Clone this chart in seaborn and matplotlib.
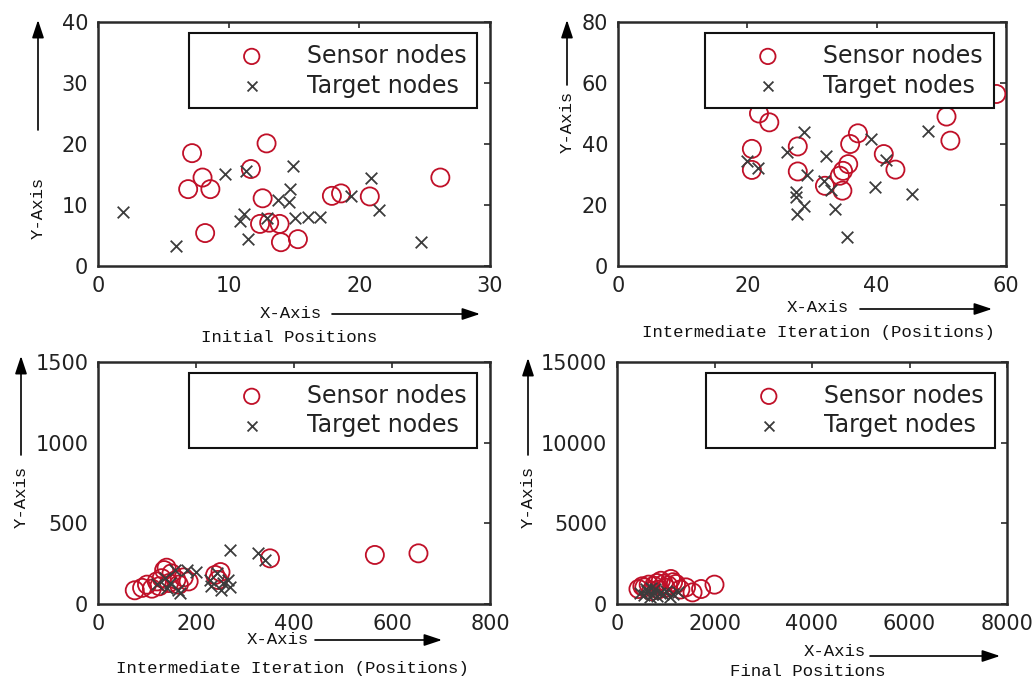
import numpy as np
import pandas as pd
import matplotlib
matplotlib.use("Agg")
import matplotlib.pyplot as plt
from matplotlib.patches import FancyArrowPatch
import seaborn as sns

# ---- node coordinates for each stage ----
init_sensor_x = [7.2, 12.9, 8.0, 6.9, 8.6, 11.7, 12.6, 8.2, 12.4, 13.1, 13.9, 14.0, 15.3, 17.9, 18.6, 20.8, 26.2]
init_sensor_y = [18.5, 20.1, 14.5, 12.6, 12.6, 15.9, 11.1, 5.4, 6.9, 7.1, 6.9, 3.9, 4.4, 11.5, 11.9, 11.4, 14.5]
init_target_x = [1.9, 6.0, 9.7, 11.3, 11.2, 10.9, 11.5, 12.9, 13.8, 14.6, 14.7, 14.9, 15.1, 16.1, 17.0, 19.4, 20.9, 21.5, 24.7]
init_target_y = [8.9, 3.3, 15.1, 15.5, 8.6, 7.3, 4.5, 7.8, 10.8, 10.5, 12.6, 16.4, 7.8, 8.1, 8.1, 11.4, 14.5, 9.2, 3.9]

mid1_sensor_x = [21.8, 23.4, 20.7, 20.7, 27.8, 27.8, 32.0, 34.7, 34.3, 34.8, 35.6, 35.9, 37.1, 41.1, 42.9, 50.8, 51.4, 58.5]
mid1_sensor_y = [50.0, 47.1, 38.4, 31.5, 39.2, 31.0, 26.3, 24.7, 29.6, 31.2, 33.4, 40.0, 43.5, 36.7, 31.6, 49.0, 41.1, 56.4]
mid1_target_x = [19.9, 21.7, 26.1, 28.8, 29.3, 27.6, 27.5, 28.7, 27.7, 32.1, 31.8, 33.0, 33.5, 35.4, 39.2, 39.7, 41.4, 45.5, 48.0]
mid1_target_y = [34.5, 32.1, 37.3, 44.0, 29.9, 24.1, 22.5, 19.8, 17.0, 36.2, 28.0, 24.9, 18.7, 9.4, 41.6, 26.0, 34.9, 23.6, 44.4]

mid2_sensor_x = [75, 90, 100, 110, 120, 125, 130, 135, 140, 145, 150, 160, 165, 175, 185, 239, 250, 245, 351, 565, 654]
mid2_sensor_y = [85, 100, 120, 95, 140, 110, 160, 210, 225, 130, 190, 150, 120, 165, 140, 180, 198, 149, 283, 304, 314]
mid2_target_x = [269, 327, 341, 201, 181, 157, 137, 147, 164, 167, 229, 242, 252, 269, 266, 230, 255, 120, 140]
mid2_target_y = [335, 314, 273, 200, 211, 211, 159, 128, 87, 66, 149, 190, 87, 107, 149, 110, 130, 125, 100]

final_sensor_x = [440, 520, 560, 650, 700, 760, 820, 900, 960, 1000, 1105, 1150, 1210, 1300, 1415, 1550, 1725, 2000, 850, 1050]
final_sensor_y = [930, 1100, 1030, 1200, 800, 1130, 1300, 1440, 1250, 1000, 1550, 1350, 1240, 900, 1030, 720, 930, 1200, 900, 1150]
final_target_x = [480, 560, 620, 680, 720, 780, 820, 880, 940, 1000, 1080, 1150, 1250, 600, 700]
final_target_y = [700, 550, 800, 450, 650, 900, 500, 700, 600, 800, 450, 650, 750, 950, 1000]

x_limits = [(0, 30), (0, 60), (0, 800), (0, 8000)]
y_limits = [(0, 40), (0, 80), (0, 1500), (0, 15000)]
x_ticks = [[0, 10, 20, 30], [0, 20, 40, 60], [0, 200, 400, 600, 800], [0, 2000, 4000, 6000, 8000]]
y_ticks = [[0, 10, 20, 30, 40], [0, 20, 40, 60, 80], [0, 500, 1000, 1500], [0, 5000, 10000, 15000]]
stage_titles = ["Initial Positions", "Intermediate Iteration (Positions)",
                "Intermediate Iteration (Positions)", "Final Positions"]
x_label = "X-Axis"
y_label = "Y-Axis"
sensor_label = "Sensor nodes"
target_label = "Target nodes"

stages = [
    (init_sensor_x, init_sensor_y, init_target_x, init_target_y),
    (mid1_sensor_x, mid1_sensor_y, mid1_target_x, mid1_target_y),
    (mid2_sensor_x, mid2_sensor_y, mid2_target_x, mid2_target_y),
    (final_sensor_x, final_sensor_y, final_target_x, final_target_y),
]

sns.set_style("white")
plt.rcParams["font.family"] = ["DejaVu Sans"]

W, H = 1035, 681
fig = plt.figure(figsize=(W / 100, H / 100), dpi=100)

def fx(px):
    return px / W

def fy(py):
    return 1 - py / H

# axes boxes in pixels: left, right, top, bottom
boxes = [(98, 490, 22, 266), (618, 1006, 22, 266), (98, 490, 362, 604), (617, 1007, 362, 604)]

SENSOR = "#c01028"
TARGET = "#3c3c3c"
EDGE = "#2a2a2a"
mono = "Liberation Mono"

for i, (box, data) in enumerate(zip(boxes, stages)):
    l, r, t, b = box
    ax = fig.add_axes([fx(l), fy(b), (r - l) / W, (b - t) / H])
    sx, sy, tx, ty = data
    sensors = pd.DataFrame({"x": sx, "y": sy})
    targets = pd.DataFrame({"x": tx, "y": ty})
    sns.scatterplot(data=sensors, x="x", y="y", ax=ax, marker="o", s=170,
                    facecolor="none", edgecolor=SENSOR, linewidth=1.3,
                    label=sensor_label, zorder=3)
    sns.scatterplot(data=targets, x="x", y="y", ax=ax, marker="x", s=70,
                    color=TARGET, linewidth=1.3, label=target_label, zorder=3)
    ax.set_xlim(*x_limits[i])
    ax.set_ylim(*y_limits[i])
    ax.set_xticks(x_ticks[i])
    ax.set_yticks(y_ticks[i])
    ax.set_xlabel("")
    ax.set_ylabel("")
    ax.tick_params(direction="in", length=4, width=1.2, color=EDGE,
                   top=True, right=True, labelsize=15, labelcolor="#222222",
                   pad=7)
    for sp in ax.spines.values():
        sp.set_visible(True)
        sp.set_color(EDGE)
        sp.set_linewidth(1.8)
    leg = ax.legend(loc="upper right", bbox_to_anchor=(0.968, 0.955),
                    borderaxespad=0, fontsize=17, frameon=True, fancybox=False,
                    handlelength=4.4, handletextpad=0.15, borderpad=0.45,
                    labelspacing=0.25, markerscale=0.85)
    leg.get_frame().set_edgecolor("#111111")
    leg.get_frame().set_linewidth(1.5)
    leg.get_frame().set_alpha(1)
    for txt in leg.get_texts():
        txt.set_color("#222222")
    leg.set_zorder(5)

# axis captions and arrows drawn in figure coordinates
arrow_kw = dict(arrowstyle="-|>,head_length=0.9,head_width=0.3", color="black",
                lw=1.2, mutation_scale=12, shrinkA=0, shrinkB=0)
cap_kw = dict(family=mono, fontsize=12.5, color="#111111")

stage_titles_iter = list(stage_titles)

def x_caption(label_cx, ly, a0, a1, ay, title_cx, title_y):
    fig.text(fx(label_cx), fy(ly), x_label, ha="center", va="center", **cap_kw)
    fig.add_artist(FancyArrowPatch((fx(a0), fy(ay)), (fx(a1), fy(ay)),
                                   transform=fig.transFigure, **arrow_kw))
    fig.text(fx(title_cx), fy(title_y), stage_titles_iter.pop(0), ha="center",
             va="center", **cap_kw)

def y_caption(x, text_cy, a0, a1):
    fig.text(fx(x), fy(text_cy), y_label, ha="center", va="center",
             rotation=90, **cap_kw)
    fig.add_artist(FancyArrowPatch((fx(x), fy(a0)), (fx(x), fy(a1)),
                                   transform=fig.transFigure, **arrow_kw))

x_caption(291, 313, 332, 480, 314, 289, 337)
x_caption(818, 308, 860, 992, 309, 818, 333)
x_caption(278, 639, 315, 442, 640, 292, 668)
x_caption(835, 651, 870, 1000, 656, 808, 672)

y_caption(38, 208, 130, 20)
y_caption(567, 122, 85, 20)
y_caption(21, 497, 455, 356)
y_caption(528, 497, 455, 358)

fig.savefig("out.png", dpi=100, facecolor="white")
